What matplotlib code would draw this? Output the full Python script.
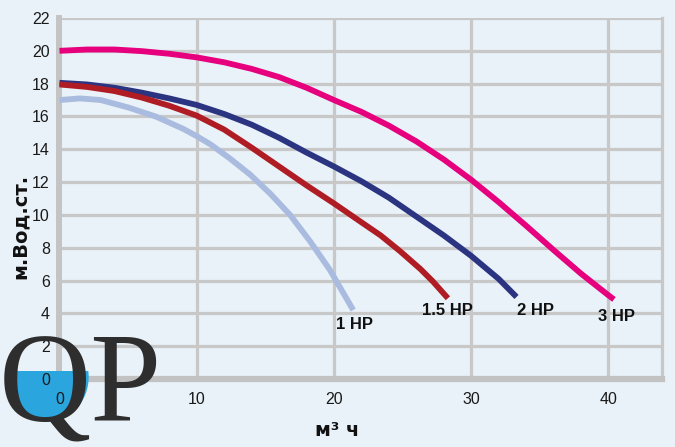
import matplotlib
matplotlib.use("Agg")
import matplotlib.pyplot as plt
from matplotlib.patches import Ellipse, Rectangle
from matplotlib.transforms import Affine2D

# ---- data ----
hp3_x = [0, 2, 4, 6, 8, 10, 12, 14, 16, 18, 20, 22, 24, 26, 28, 30, 32, 34, 36, 38, 40, 40.4]
hp3_y = [20.0, 20.08, 20.08, 19.98, 19.82, 19.6, 19.3, 18.9, 18.4, 17.75, 17.0, 16.28,
         15.44, 14.48, 13.38, 12.14, 10.78, 9.34, 7.86, 6.42, 5.1, 4.85]
hp2_x = [0, 2, 4, 6, 8, 10, 12, 14, 16, 18, 20, 22, 24, 26, 28, 30, 32, 33.3]
hp2_y = [18.05, 17.95, 17.75, 17.45, 17.1, 16.7, 16.15, 15.5, 14.7, 13.8, 12.95, 12.05,
         11.05, 9.9, 8.75, 7.5, 6.1, 5.0]
hp15_x = [0, 2, 4, 6, 8, 10, 12, 14, 16, 18, 20, 22, 23.4, 24.8, 26.3, 27.2, 28.3]
hp15_y = [17.95, 17.8, 17.55, 17.15, 16.65, 16.05, 15.2, 14.1, 12.95, 11.8, 10.7, 9.55,
          8.75, 7.8, 6.7, 5.95, 4.92]
hp1_x = [0, 1.5, 3, 5, 7, 9, 10, 11, 12.4, 13.9, 15.35, 16.8, 18.25, 19.7, 21.4]
hp1_y = [17.0, 17.1, 17.0, 16.55, 16.0, 15.25, 14.8, 14.3, 13.45, 12.45, 11.3, 10.0,
         8.4, 6.65, 4.2]

series_labels = ["1 HP", "1.5 HP", "2 HP", "3 HP"]
label_x = [21.5, 28.3, 34.7, 40.6]
label_y = [3.3, 4.2, 4.15, 3.8]
x_ticks = [0, 10, 20, 30, 40]
y_ticks = list(range(0, 23, 2))
x_label = "м³ ч"
y_label = "м.Вод.ст."

BG = "#E9F2F8"
GRID = "#C8C8C8"
sans = ["Liberation Sans", "DejaVu Sans"]

fig = plt.figure(figsize=(6.75, 4.47), dpi=100, facecolor=BG)
ax = fig.add_axes([59.5/675, (447-379)/447, (662-59.5)/675, (379-18)/447])
ax.set_facecolor(BG)
ax.set_xlim(0, 43.9)
ax.set_ylim(0, 22)

for yv in y_ticks[1:]:
    ax.axhline(yv, color=GRID, lw=2.3, zorder=1)
for xv in x_ticks[1:]:
    ax.axvline(xv, color=GRID, lw=2.3, zorder=1)

ax.spines["top"].set_visible(False)
ax.spines["left"].set_color("#C4C4C4")
ax.spines["left"].set_linewidth(4.3)
ax.spines["bottom"].set_color("#C2C2C2")
ax.spines["bottom"].set_linewidth(4.5)
ax.spines["right"].set_color(GRID)
ax.spines["right"].set_linewidth(2.3)

lw = 4.2
kw = dict(lw=lw, solid_capstyle="butt", solid_joinstyle="round")
ax.plot(hp1_x, hp1_y, color="#AABBE0", zorder=3, **kw)
ax.plot(hp2_x, hp2_y, color="#2B3481", zorder=3.5, **kw)
ax.plot(hp15_x, hp15_y, color="#B01C24", zorder=4, **kw)
ax.plot(hp3_x, hp3_y, color="#E6007E", zorder=3, **kw)

for t, lx, ly in zip(series_labels, label_x, label_y):
    ax.text(lx, ly, t, ha="center", va="center", fontsize=12, fontweight="bold",
            family=sans, color="#111111", zorder=5)

ax.set_xticks(x_ticks)
ax.set_yticks(y_ticks)
ax.tick_params(length=0, labelsize=11.5, colors="#1A1A1A")
ax.tick_params(axis="x", pad=9)
ax.tick_params(axis="y", pad=7)
for lab in ax.get_xticklabels() + ax.get_yticklabels():
    lab.set_family(sans)
ax.xaxis.set_zorder(5)
ax.yaxis.set_zorder(5)

fig.text(20/675, 1 - 226/447, y_label, rotation=90, ha="center", va="center",
         fontsize=14, fontweight="bold", family="DejaVu Sans", color="#111111")
fig.text(337/675, 1 - 431/447, x_label, ha="center", va="center",
         fontsize=14, fontweight="bold", family="DejaVu Sans", color="#111111")

# ---- logo (pixel coordinates from the top-left corner) ----
px = Affine2D().scale(1/100, -1/100).translate(0, 4.47) + fig.dpi_scale_trans
water = Ellipse((47, 377), 82, 88, color="#2AA5DE", transform=px, zorder=4.5)
ax.add_artist(water)
water.set_clip_path(Rectangle((0, 371), 120, 80, transform=px))
ax.text(-1, 421, "QP", fontsize=92, family="Liberation Serif", color="#2E2E2E",
        ha="left", va="baseline", transform=px, zorder=6, clip_on=False)

fig.savefig("out.png", dpi=100, facecolor=BG)
